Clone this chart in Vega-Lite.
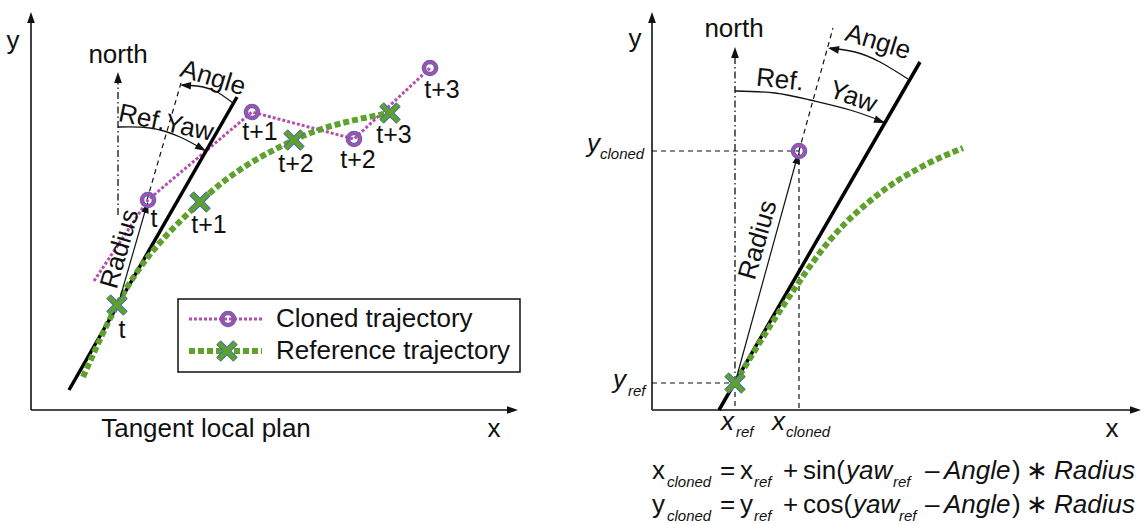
{
"$schema":"https://vega.github.io/schema/vega-lite/v6.json",
"width":1146,"height":524,"autosize":"none","padding":0,"background":"white",
"config":{"view":{"stroke":null},"text":{"font":"Liberation Sans","color":"#111"},"point":{"opacity":1},"line":{"opacity":1}},
"datasets":{
"axes":[{"x":31,"y":410,"x2":31,"y2":16},{"x":31,"y":410,"x2":514,"y2":410},{"x":652,"y":410,"x2":652,"y2":16},{"x":652,"y":410,"x2":1137,"y2":410}],
"radius":[{"x":118,"y":305,"x2":146,"y2":208},{"x":735,"y":383,"x2":797,"y2":158}],
"tangent":[{"x":69,"y":390,"x2":237,"y2":97},{"x":719,"y":410,"x2":920,"y2":62}],
"dashed":[{"x":147,"y":200,"x2":181,"y2":83},{"x":799,"y":151,"x2":833,"y2":28},{"x":735,"y":383,"x2":735,"y2":410},{"x":799,"y":151,"x2":799,"y2":410},{"x":652,"y":151,"x2":799,"y2":151},{"x":652,"y":383,"x2":735,"y2":383}],
"north":[{"x":118,"y":215,"x2":118,"y2":78},{"x":735,"y":383,"x2":735,"y2":53}],
"heads":[{"x":31,"y":12,"h":0},{"x":518,"y":410,"h":90},{"x":652,"y":12,"h":0},{"x":1141,"y":410,"h":90},{"x":118,"y":72,"h":0},{"x":735,"y":47,"h":0},{"x":180,"y":85,"h":274},{"x":828,"y":48,"h":280},{"x":206,"y":151,"h":120},{"x":885,"y":123,"h":110},{"x":148,"y":202,"h":16},{"x":799,"y":153,"h":15}],
"arcs":[{"id":"La","x":233,"y":103},{"id":"La","x":215,"y":91},{"id":"La","x":197,"y":86},{"id":"La","x":182,"y":85},
{"id":"Ra","x":908,"y":79},{"id":"Ra","x":880,"y":62},{"id":"Ra","x":855,"y":52},{"id":"Ra","x":830,"y":48},
{"id":"Ly","x":118,"y":127},{"id":"Ly","x":150,"y":128},{"id":"Ly","x":180,"y":137},{"id":"Ly","x":204,"y":150},
{"id":"Ry","x":735,"y":91},{"id":"Ry","x":775,"y":93},{"id":"Ry","x":810,"y":100},{"id":"Ry","x":850,"y":110},{"id":"Ry","x":884,"y":122}],
"cloned":[{"id":"L","x":94,"y":281},{"id":"L","x":148,"y":200},{"id":"L","x":252,"y":112},{"id":"L","x":354,"y":139},{"id":"L","x":430,"y":68},{"id":"key","x":189,"y":319},{"id":"key","x":262,"y":319}],
"reference":[{"id":"L","x":83,"y":377},{"id":"L","x":117,"y":305},{"id":"L","x":200,"y":202},{"id":"L","x":294,"y":140},{"id":"L","x":390,"y":113},
{"id":"R","x":735,"y":383},{"id":"R","x":787,"y":300},{"id":"R","x":830,"y":240},{"id":"R","x":880,"y":193},{"id":"R","x":925,"y":165},{"id":"R","x":963,"y":148},
{"id":"key","x":189,"y":351},{"id":"key","x":262,"y":351}],
"clonedPts":[{"x":148,"y":200},{"x":252,"y":112},{"x":354,"y":139},{"x":430,"y":68},{"x":799,"y":151},{"x":228,"y":319}],
"refPts":[{"x":117,"y":305},{"x":200,"y":202},{"x":294,"y":140},{"x":390,"y":113},{"x":735,"y":383},{"x":227,"y":351}],
"legendBox":[{"x":178,"y":299,"x2":520,"y2":372}],
"plain":[{"t":"y","x":13,"y":41},{"t":"north","x":118,"y":55},{"t":"x","x":494,"y":429},{"t":"Tangent local plan","x":206,"y":429},{"t":"y","x":635,"y":39},{"t":"north","x":734,"y":29},{"t":"x","x":1112,"y":429}],
"tlabels":[{"t":"t","x":154,"y":219},{"t":"t+1","x":260,"y":132},{"t":"t+2","x":358,"y":160},{"t":"t+3","x":442,"y":90},{"t":"t","x":122,"y":330},{"t":"t+1","x":209,"y":225},{"t":"t+2","x":296,"y":164},{"t":"t+3","x":394,"y":135}],
"legendText":[{"t":"Cloned trajectory","x":276,"y":327},{"t":"Reference trajectory","x":276,"y":359}],
"rotAngle":[{"t":"Angle","x":213,"y":78},{"t":"Angle","x":878,"y":42}],
"rotRadius":[{"t":"Radius","x":120,"y":249},{"t":"Radius","x":758,"y":240}],
"rotRefYawL":[{"t":"Ref.Yaw","x":166,"y":123}],
"rotRefR":[{"t":"Ref.","x":780,"y":80}],
"rotYawR":[{"t":"Yaw","x":853,"y":97}],
"mathUp":[{"t":"x","x":652,"y":479},{"t":"=","x":720,"y":479},{"t":"x","x":740,"y":479},{"t":"+","x":783,"y":479},{"t":"sin(","x":803,"y":479},{"t":"–","x":925,"y":479},{"t":")","x":1012,"y":479},{"t":"∗","x":1026,"y":479},
{"t":"y","x":652,"y":513},{"t":"=","x":720,"y":513},{"t":"y","x":740,"y":513},{"t":"+","x":783,"y":513},{"t":"cos(","x":803,"y":513},{"t":"–","x":925,"y":513},{"t":")","x":1012,"y":513},{"t":"∗","x":1026,"y":513}],
"mathIt":[{"t":"yaw","x":846,"y":479},{"t":"Angle","x":944,"y":479},{"t":"Radius","x":1054,"y":479},{"t":"yaw","x":853,"y":513},{"t":"Angle","x":944,"y":513},{"t":"Radius","x":1054,"y":513},
{"t":"y","x":587,"y":152},{"t":"y","x":613,"y":388},{"t":"x","x":721,"y":430},{"t":"x","x":772,"y":430}],
"mathSub":[{"t":"cloned","x":667,"y":487},{"t":"ref","x":754,"y":487},{"t":"ref","x":893,"y":487},{"t":"cloned","x":667,"y":521},{"t":"ref","x":754,"y":521},{"t":"ref","x":899,"y":521},
{"t":"cloned","x":600,"y":159},{"t":"ref","x":628,"y":396},{"t":"ref","x":736,"y":437},{"t":"cloned","x":786,"y":437}]
},
"encoding":{
"x":{"field":"x","type":"quantitative","scale":{"domain":[0,1146],"nice":false,"zero":false},"axis":null},
"y":{"field":"y","type":"quantitative","scale":{"domain":[0,524],"reverse":true,"nice":false,"zero":false},"axis":null}
},
"layer":[
{"data":{"name":"dashed"},"mark":{"type":"rule","strokeWidth":1.2,"strokeDash":[5,4],"color":"#111"},"encoding":{"x2":{"field":"x2"},"y2":{"field":"y2"}}},
{"data":{"name":"north"},"mark":{"type":"rule","strokeWidth":1.3,"strokeDash":[7,3,1.5,3],"color":"#111"},"encoding":{"x2":{"field":"x2"},"y2":{"field":"y2"}}},
{"data":{"name":"axes"},"mark":{"type":"rule","strokeWidth":1.6,"color":"#111"},"encoding":{"x2":{"field":"x2"},"y2":{"field":"y2"}}},
{"data":{"name":"cloned"},"mark":{"type":"line","color":"#b44fb0","strokeWidth":3,"strokeDash":[3,2]},"encoding":{"detail":{"field":"id"}}},
{"data":{"name":"tangent"},"mark":{"type":"rule","strokeWidth":3.5,"color":"#000"},"encoding":{"x2":{"field":"x2"},"y2":{"field":"y2"}}},
{"data":{"name":"reference"},"mark":{"type":"line","color":"#5ea12c","strokeWidth":6,"strokeDash":[6,3],"interpolate":"monotone"},"encoding":{"detail":{"field":"id"}}},
{"data":{"name":"arcs"},"mark":{"type":"line","color":"#111","strokeWidth":1.3,"interpolate":"natural"},"encoding":{"detail":{"field":"id"}}},
{"data":{"name":"radius"},"mark":{"type":"rule","strokeWidth":1.2,"color":"#111"},"encoding":{"x2":{"field":"x2"},"y2":{"field":"y2"}}},
{"data":{"name":"heads"},"mark":{"type":"point","shape":"M0,0L0.7,2L-0.7,2Z","filled":true,"color":"#111","size":121},"encoding":{"angle":{"field":"h","type":"quantitative","scale":null}}},
{"data":{"name":"legendBox"},"mark":{"type":"rect","fillOpacity":0,"stroke":"#111","strokeWidth":1.5},"encoding":{"x2":{"field":"x2"},"y2":{"field":"y2"}}},
{"data":{"name":"refPts"},"mark":{"type":"point","shape":"M-1,-1L1,1M1,-1L-1,1","filled":false,"stroke":"#4a6db5","strokeWidth":6.5,"size":289}},
{"data":{"name":"refPts"},"mark":{"type":"point","shape":"M-1,-1L1,1M1,-1L-1,1","filled":false,"stroke":"#5ea12c","strokeWidth":4.5,"size":289}},
{"data":{"name":"clonedPts"},"mark":{"type":"point","shape":"circle","filled":false,"stroke":"#4a6db5","strokeWidth":4.6,"size":144}},
{"data":{"name":"clonedPts"},"mark":{"type":"point","shape":"circle","filled":false,"stroke":"#b04aab","strokeWidth":2.6,"size":144}},
{"data":{"name":"plain"},"mark":{"type":"text","fontSize":26,"align":"center","baseline":"middle"},"encoding":{"text":{"field":"t"}}},
{"data":{"name":"tlabels"},"mark":{"type":"text","fontSize":25,"align":"center","baseline":"middle"},"encoding":{"text":{"field":"t"}}},
{"data":{"name":"legendText"},"mark":{"type":"text","fontSize":26,"align":"left","baseline":"alphabetic"},"encoding":{"text":{"field":"t"}}},
{"data":{"name":"rotAngle"},"mark":{"type":"text","fontSize":26,"align":"center","baseline":"middle","angle":17},"encoding":{"text":{"field":"t"}}},
{"data":{"name":"rotRadius"},"mark":{"type":"text","fontSize":26,"align":"center","baseline":"middle","angle":-74},"encoding":{"text":{"field":"t"}}},
{"data":{"name":"rotRefYawL"},"mark":{"type":"text","fontSize":26,"align":"center","baseline":"middle","angle":12},"encoding":{"text":{"field":"t"}}},
{"data":{"name":"rotRefR"},"mark":{"type":"text","fontSize":26,"align":"center","baseline":"middle","angle":6},"encoding":{"text":{"field":"t"}}},
{"data":{"name":"rotYawR"},"mark":{"type":"text","fontSize":26,"align":"center","baseline":"middle","angle":20},"encoding":{"text":{"field":"t"}}},
{"data":{"name":"mathUp"},"mark":{"type":"text","fontSize":26,"align":"left","baseline":"alphabetic"},"encoding":{"text":{"field":"t"}}},
{"data":{"name":"mathIt"},"mark":{"type":"text","fontSize":26,"fontStyle":"italic","align":"left","baseline":"alphabetic"},"encoding":{"text":{"field":"t"}}},
{"data":{"name":"mathSub"},"mark":{"type":"text","fontSize":15,"fontStyle":"italic","align":"left","baseline":"alphabetic"},"encoding":{"text":{"field":"t"}}}
]
}
